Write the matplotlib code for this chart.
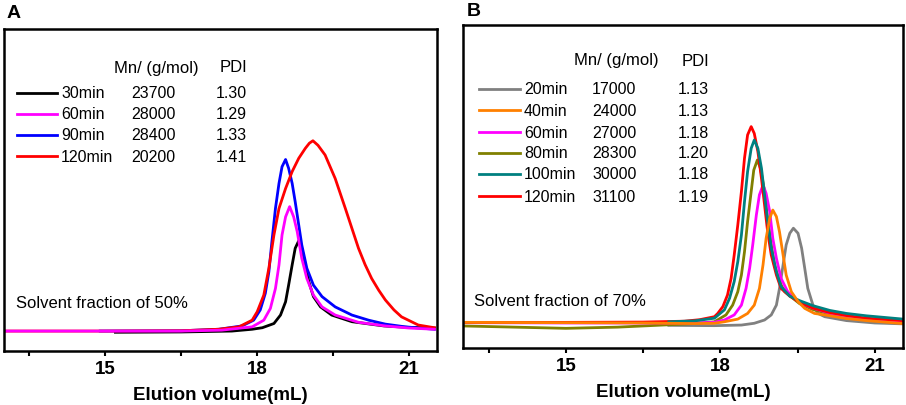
import matplotlib
matplotlib.use('Agg')
import matplotlib.pyplot as plt
from matplotlib.lines import Line2D

plt.rcParams['font.family'] = ['Liberation Sans', 'DejaVu Sans']

# ---- panel A: solvent fraction 50% ----
a_labels = ['30min', '60min', '90min', '120min']
a_mn = ['23700', '28000', '28400', '20200']
a_pdi = ['1.30', '1.29', '1.33', '1.41']
a_colors = ['black', '#FF00FF', '#0000FF', '#FF0000']

a30_x = [15.2, 16.5, 17.5, 17.9, 18.1, 18.33, 18.46, 18.56, 18.62, 18.69, 18.75, 18.82,
         18.88, 18.95, 19.02, 19.11, 19.25, 19.47, 19.87, 20.5, 21.0, 21.5]
a30_y = [-0.004, -0.003, 0.0, 0.006, 0.011, 0.025, 0.053, 0.097, 0.152, 0.219, 0.274, 0.299,
         0.274, 0.219, 0.163, 0.114, 0.080, 0.053, 0.031, 0.017, 0.012, 0.010]
a60_x = [13.0, 15.0, 16.5, 17.3, 17.9, 18.13, 18.26, 18.36, 18.43, 18.49, 18.56, 18.64,
         18.72, 18.79, 18.88, 18.98, 19.11, 19.28, 19.54, 20.0, 20.53, 21.0, 21.5]
a60_y = [0.0, 0.0, 0.0, 0.003, 0.014, 0.036, 0.075, 0.141, 0.219, 0.318, 0.378, 0.412,
         0.378, 0.329, 0.241, 0.174, 0.119, 0.080, 0.053, 0.029, 0.017, 0.010, 0.006]
a90_x = [14.9, 16.5, 17.24, 17.70, 17.93, 18.06, 18.16, 18.23, 18.29, 18.36, 18.43, 18.49,
         18.56, 18.62, 18.69, 18.75, 18.82, 18.88, 18.98, 19.11, 19.28, 19.54, 19.87, 20.20,
         20.53, 20.92, 21.5]
a90_y = [0.0, 0.001, 0.006, 0.017, 0.036, 0.070, 0.125, 0.196, 0.296, 0.406, 0.489, 0.544,
         0.568, 0.539, 0.489, 0.428, 0.351, 0.285, 0.208, 0.152, 0.114, 0.080, 0.053, 0.036,
         0.023, 0.014, 0.006]
a120_x = [13.0, 15.0, 16.5, 17.24, 17.64, 17.90, 18.0, 18.13, 18.23, 18.33, 18.43, 18.56,
          18.69, 18.82, 18.95, 19.03, 19.10, 19.20, 19.34, 19.54, 19.74, 19.87, 20.0, 20.13,
          20.26, 20.40, 20.53, 20.70, 20.85, 21.18, 21.5]
a120_y = [0.0, 0.0, 0.001, 0.006, 0.014, 0.036, 0.064, 0.119, 0.208, 0.318, 0.406, 0.472,
          0.528, 0.572, 0.605, 0.622, 0.630, 0.615, 0.583, 0.505, 0.406, 0.340, 0.274, 0.220,
          0.174, 0.135, 0.103, 0.070, 0.047, 0.020, 0.011]

# ---- panel B: solvent fraction 70% ----
b_labels = ['20min', '40min', '60min', '80min', '100min', '120min']
b_mn = ['17000', '24000', '27000', '28300', '30000', '31100']
b_pdi = ['1.13', '1.13', '1.18', '1.20', '1.18', '1.19']
b_colors = ['#808080', '#FF8000', '#FF00FF', '#808000', '#008080', '#FF0000']

b20_x = [17.0, 17.885, 18.41, 18.66, 18.86, 18.99, 19.09, 19.15, 19.22, 19.28, 19.35, 19.42,
         19.51, 19.58, 19.64, 19.70, 19.80, 19.90, 20.03, 20.45, 21.0, 21.55]
b20_y = [-0.008, -0.009, -0.007, -0.001, 0.010, 0.027, 0.060, 0.116, 0.195, 0.262, 0.301, 0.318,
         0.301, 0.251, 0.184, 0.116, 0.060, 0.032, 0.021, 0.008, 0.0, -0.003]
b40_x = [13.0, 15.0, 16.5, 17.5, 17.885, 18.08, 18.34, 18.53, 18.66, 18.76, 18.83, 18.89,
         18.96, 19.02, 19.09, 19.15, 19.22, 19.28, 19.38, 19.51, 19.64, 19.83, 20.03, 20.45,
         20.84, 21.55]
b40_y = [0.002, 0.001, 0.0, -0.002, -0.001, 0.004, 0.013, 0.032, 0.060, 0.116, 0.195, 0.284,
         0.351, 0.379, 0.357, 0.306, 0.228, 0.161, 0.105, 0.072, 0.049, 0.032, 0.027, 0.015,
         0.008, -0.002]
b60_x = [13.0, 15.0, 16.5, 17.5, 17.885, 18.08, 18.27, 18.41, 18.50, 18.57, 18.63, 18.70,
         18.76, 18.83, 18.89, 18.96, 19.02, 19.09, 19.18, 19.31, 19.44, 19.58, 19.80, 20.13,
         20.45, 20.84, 21.55]
b60_y = [0.001, 0.0, 0.0, 0.0, 0.002, 0.010, 0.027, 0.060, 0.116, 0.184, 0.262, 0.362,
         0.430, 0.463, 0.435, 0.374, 0.284, 0.217, 0.150, 0.105, 0.083, 0.066, 0.050, 0.033,
         0.022, 0.013, 0.005]
b80_x = [13.0, 14.0, 15.0, 16.0, 17.0, 17.5, 17.885, 18.11, 18.24, 18.34, 18.41, 18.47,
         18.53, 18.60, 18.65, 18.72, 18.78, 18.85, 18.91, 18.98, 19.05, 19.15, 19.25, 19.54,
         19.80, 20.13, 20.45, 20.84, 21.55]
b80_y = [-0.010, -0.014, -0.018, -0.014, -0.006, -0.002, 0.004, 0.027, 0.060, 0.105, 0.161,
         0.239, 0.340, 0.441, 0.513, 0.547, 0.519, 0.452, 0.362, 0.273, 0.195, 0.139, 0.105,
         0.065, 0.045, 0.030, 0.020, 0.012, 0.005]
b100_x = [17.0, 17.5, 17.885, 18.08, 18.18, 18.27, 18.34, 18.41, 18.47, 18.53, 18.60, 18.66,
          18.73, 18.80, 18.86, 18.92, 18.99, 19.09, 19.18, 19.35, 19.54, 19.80, 20.13, 20.45,
          20.84, 21.55]
b100_y = [0.004, 0.007, 0.016, 0.044, 0.083, 0.139, 0.206, 0.295, 0.407, 0.508, 0.586, 0.614,
          0.586, 0.519, 0.430, 0.340, 0.251, 0.172, 0.122, 0.090, 0.075, 0.058, 0.042, 0.032,
          0.024, 0.013]
b120_x = [13.0, 15.0, 16.5, 17.3, 17.6, 17.885, 17.95, 18.05, 18.14, 18.21, 18.27, 18.34,
          18.41, 18.47, 18.53, 18.60, 18.66, 18.73, 18.80, 18.86, 18.92, 18.99, 19.09, 19.18,
          19.35, 19.54, 19.80, 20.13, 20.45, 20.84, 21.55]
b120_y = [0.002, 0.002, 0.003, 0.006, 0.011, 0.021, 0.032, 0.055, 0.094, 0.150, 0.228, 0.329,
          0.441, 0.553, 0.631, 0.659, 0.636, 0.575, 0.485, 0.396, 0.306, 0.228, 0.161, 0.116,
          0.090, 0.070, 0.050, 0.035, 0.025, 0.016, 0.008]

W, H = 906, 405
LW = 2.0
fig = plt.figure(figsize=(W / 100, H / 100), dpi=100)


def fx(px):
    return px / W


def fy(py):
    return 1 - py / H


def setup_axes(ax, ylo):
    ax.set_xlim(13, 21.55)
    ax.set_ylim(ylo, 1.0)
    ax.set_xticks([15, 18, 21])
    ax.set_xticks([13.5, 16.5, 19.5], minor=True)
    ax.set_yticks([])
    ax.tick_params(axis='x', which='both', direction='out', length=3.5, width=1.5,
                   labelsize=13.5, pad=4)
    for lab in ax.get_xticklabels():
        lab.set_fontweight('bold')
    for sp in ax.spines.values():
        sp.set_linewidth(1.8)
    ax.set_xlabel('Elution volume(mL)', fontsize=13.5, fontweight='bold', labelpad=6)


def legend_block(header_y, mn_x, pdi_x, line_x0, line_x1, lab_x, row_ys, labels, mns, pdis, colors, hx, px_):
    fig.text(fx(hx), fy(header_y), 'Mn/ (g/mol)', fontsize=12, va='center')
    fig.text(fx(px_), fy(header_y), 'PDI', fontsize=12, va='center')
    for y, lab, mn, pdi, c in zip(row_ys, labels, mns, pdis, colors):
        fig.add_artist(Line2D([fx(line_x0), fx(line_x1)], [fy(y - 1), fy(y - 1)],
                              color=c, lw=LW, transform=fig.transFigure))
        fig.text(fx(lab_x), fy(y), lab, fontsize=11.5, va='center')
        fig.text(fx(mn_x), fy(y), mn, fontsize=11.5, va='center')
        fig.text(fx(pdi_x), fy(y), pdi, fontsize=11.5, va='center')


# panel A
axA = fig.add_axes([fx(4), fy(351), fx(437 - 4), (351 - 29) / H])
axA.plot(a30_x, a30_y, color=a_colors[0], lw=LW)
axA.plot(a90_x, a90_y, color=a_colors[2], lw=LW)
axA.plot(a120_x, a120_y, color=a_colors[3], lw=LW)
axA.plot(a60_x, a60_y, color=a_colors[1], lw=LW)
setup_axes(axA, -0.066)
fig.text(fx(16), fy(304), 'Solvent fraction of 50%', fontsize=12, va='center')
fig.text(fx(7), fy(13), 'A', fontsize=14, fontweight='bold', va='center')
legend_block(68, 131, 216, 17, 57, 61, [94, 115, 136, 157],
             a_labels, a_mn, a_pdi, a_colors, 114, 220)

# panel B
axB = fig.add_axes([fx(463), fy(348), fx(903 - 463), (348 - 25) / H])
axB.plot(b20_x, b20_y, color=b_colors[0], lw=LW)
axB.plot(b80_x, b80_y, color=b_colors[3], lw=LW)
axB.plot(b60_x, b60_y, color=b_colors[2], lw=LW)
axB.plot(b120_x, b120_y, color=b_colors[5], lw=LW)
axB.plot(b100_x, b100_y, color=b_colors[4], lw=LW)
axB.plot(b40_x, b40_y, color=b_colors[1], lw=LW)
setup_axes(axB, -0.084)
fig.text(fx(474), fy(302), 'Solvent fraction of 70%', fontsize=12, va='center')
fig.text(fx(467), fy(12), 'B', fontsize=14, fontweight='bold', va='center')
legend_block(61, 592, 678, 479, 520, 524, [90, 111, 133, 154, 175, 197],
             b_labels, b_mn, b_pdi, b_colors, 574, 682)

fig.savefig('out.png', dpi=100)
